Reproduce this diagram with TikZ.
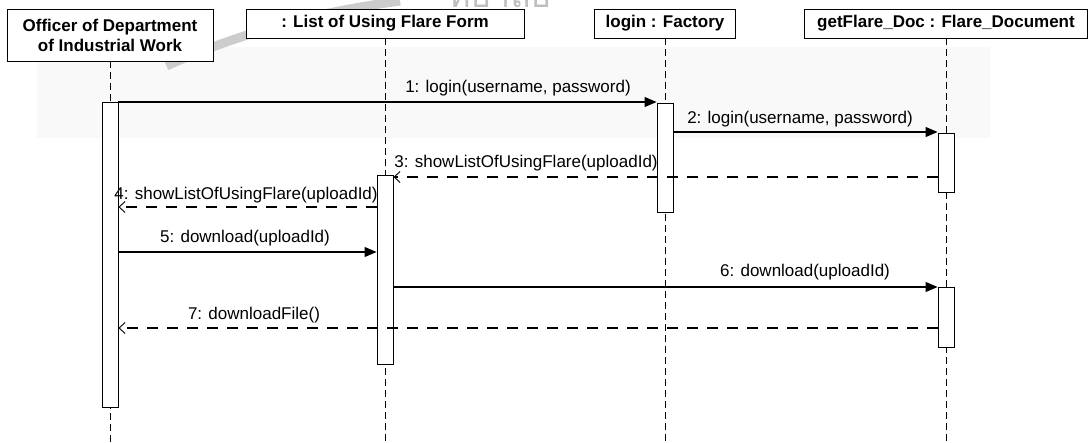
\documentclass[tikz,border=0pt]{standalone}
\usepackage{fontspec}
\setmainfont{Liberation Sans}
\newfontfamily\thaimark[Script=Thai]{Loma}
\usetikzlibrary{arrows.meta,calc}

\begin{document}
\begin{tikzpicture}[x=1pt,y=-1pt,
  obj/.style={draw=black,line width=0.9pt,fill=white,inner sep=0pt,align=center,
              font=\fontsize{17}{20}\selectfont\bfseries},
  act/.style={draw=black,line width=0.9pt,fill=white,inner sep=0pt,minimum width=16pt},
  life/.style={draw=black,line width=0.8pt,dash pattern=on 7pt off 4pt},
  call/.style={draw=black,line width=1.1pt,-{Triangle[length=12pt,width=10pt]}},
  reply/.style={draw=black,line width=1.1pt,dash pattern=on 11pt off 9pt,
                -{Straight Barb[length=6pt,width=11pt,line width=0.9pt]}},
  msg/.style={font=\fontsize{17}{20}\selectfont,inner sep=0pt},
]
\useasboundingbox (0,0) rectangle (1091,443);
\fill[white] (0,0) rectangle (1091,443);

% faint background stamp
\begin{scope}
  \clip (0,0) rectangle (1091,443);
  \fill[black!2.5] (37,47) rectangle (990,138);
  \draw[black!20,line width=9pt]
    plot[domain=-24:-7,samples=30] ({500+820*sin(\x)},{815-820*cos(\x)});
  \node[text=black!25,font=\thaimark\fontsize{34}{34}\selectfont,anchor=base,inner sep=0pt]
    (stamp) at (500,8) {ทยาลัย};
\end{scope}

% objects
\node[obj,minimum width=206pt,minimum height=52pt] (o1) at (110,35)
  {Officer of Department\\of Industrial Work};
\node[obj,minimum width=278pt,minimum height=29pt] (o2) at (385,23.5)
  {: List of Using Flare Form};
\node[obj,minimum width=141pt,minimum height=29pt] (o3) at (665,23.5)
  {login : Factory};
\node[obj,minimum width=283pt,minimum height=29pt] (o4) at (946,23.5)
  {getFlare\_Doc : Flare\_Document};

% lifelines
\coordinate (e1) at (110,443);
\coordinate (e2) at (385,443);
\coordinate (e3) at (665,443);
\coordinate (e4) at (946,443);
\draw[life] (o1.south) -- (e1);
\draw[life] (o2.south) -- (e2);
\draw[life] (o3.south) -- (e3);
\draw[life] (o4.south) -- (e4);

% activations
\node[act,minimum height=305pt] (a1) at (110,254.5) {};
\node[act,minimum height=189pt] (a2) at (385,269.5) {};
\node[act,minimum height=109pt] (a3) at (665,157.5) {};
\node[act,minimum height=59pt]  (a4) at (946,162.5) {};
\node[act,minimum height=60pt]  (a5) at (946,317) {};

% message rows
\coordinate (m1) at (0,102);
\coordinate (m2) at (0,132);
\coordinate (m3) at (0,177);
\coordinate (m4) at (0,207);
\coordinate (m5) at (0,252);
\coordinate (m6) at (0,287);
\coordinate (m7) at (0,328);

\draw[call]  (a1.east |- m1) -- (a3.west |- m1);
\draw[call]  (a3.east |- m2) -- (a4.west |- m2);
\draw[reply] (a4.west |- m3) -- (a2.east |- m3);
\draw[reply] (a2.west |- m4) -- (a1.east |- m4);
\draw[call]  (a1.east |- m5) -- (a2.west |- m5);
\draw[call]  (a2.east |- m6) -- (a5.west |- m6);
\draw[reply] (a5.west |- m7) -- (a1.east |- m7);

% message labels
\node[msg] (t1) at (518,88)  {1: login(username, password)};
\node[msg] (t2) at (800,119) {2: login(username, password)};
\node[msg] (t3) at (526,163) {3: showListOfUsingFlare(uploadId)};
\node[msg] (t4) at (246,195) {4: showListOfUsingFlare(uploadId)};
\node[msg] (t5) at (245,238) {5: download(uploadId)};
\node[msg] (t6) at (805,272) {6: download(uploadId)};
\node[msg] (t7) at (254,315) {7: downloadFile()};
\end{tikzpicture}
\end{document}
